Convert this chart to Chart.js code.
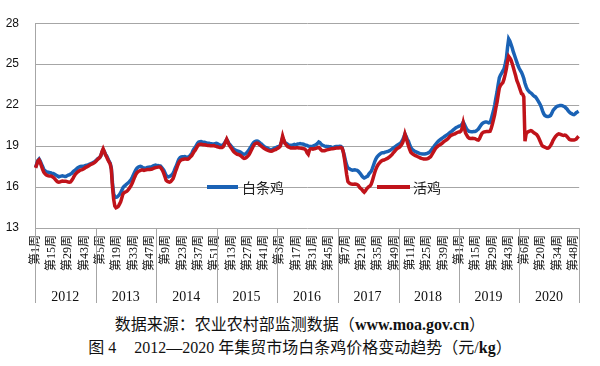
<!DOCTYPE html>
<html><head><meta charset="utf-8">
<script src="https://cdn.jsdelivr.net/npm/chart.js@4.4.1/dist/chart.umd.min.js"></script>
<style>
html,body{margin:0;padding:0;background:#fff;width:600px;height:366px;overflow:hidden;}
#wrap{position:relative;width:600px;height:366px;}
#c{position:absolute;left:0;top:0;}
.cap{position:absolute;left:0;width:600px;text-align:center;font-size:16px;line-height:20px;color:#111;font-family:'Liberation Serif','Noto Sans CJK SC',serif;white-space:nowrap;}
.lg-line{position:absolute;height:4px;}
.lg-text{position:absolute;font-family:'Noto Sans CJK SC',sans-serif;font-size:14px;line-height:16px;color:#222;white-space:nowrap;}
</style></head>
<body><div id="wrap"><canvas id="c" width="600" height="306"></canvas>
<div id="legend"></div>
<div class="cap" style="top:315px">数据来源：农业农村部监测数据（<b>www.moa.gov.cn</b>）</div>
<div class="cap" style="top:338px">图 4<span style="display:inline-block;width:18px"></span>2012—2020 年集贸市场白条鸡价格变动趋势（元/<b>kg</b>）</div>
</div>
<script>
// ---- categories / tick labels ----
const years = ['2012','2013','2014','2015','2016','2017','2018','2019','2020'];
const weeksPerYear = [52,52,52,52,52,52,52,51,52];
const labelStep = 14;

// ---- series: 白条鸡 (元/kg), weekly ----
const bai2012 = [17.45,17.7,17.95,18.05,17.9,17.7,17.5,17.3,17.2,17.13,17.1,17.08,17.05,17.05,17.0,17.0,16.95,16.9,16.85,16.8,16.75,16.78,16.8,16.82,16.8,16.78,16.78,16.82,16.88,16.9,16.95,17.0,17.1,17.18,17.24,17.32,17.4,17.45,17.5,17.52,17.5,17.52,17.55,17.58,17.6,17.62,17.66,17.7,17.74,17.78,17.82,17.88];
const bai2013 = [17.95,18.05,18.1,18.16,18.3,18.55,18.74,18.6,18.4,18.28,18.1,17.9,17.75,17.4,16.3,15.5,15.3,15.25,15.27,15.35,15.45,15.6,15.75,15.95,16.05,16.12,16.2,16.28,16.35,16.45,16.55,16.72,16.9,17.08,17.25,17.38,17.45,17.5,17.52,17.48,17.42,17.4,17.38,17.4,17.44,17.46,17.47,17.45,17.5,17.55,17.58,17.6];
const bai2014 = [17.55,17.58,17.56,17.55,17.45,17.35,17.24,17.05,16.85,16.78,16.75,16.78,16.82,16.9,17.0,17.2,17.42,17.6,17.85,18.05,18.16,18.2,18.22,18.22,18.23,18.2,18.18,18.16,18.25,18.35,18.45,18.65,18.8,18.9,19.05,19.2,19.3,19.32,19.33,19.3,19.28,19.28,19.25,19.22,19.2,19.2,19.18,19.17,19.16,19.16,19.18,19.2];
const bai2015 = [19.18,19.12,19.08,19.05,19.04,19.1,19.2,19.35,19.48,19.35,19.18,19.08,18.98,18.88,18.78,18.72,18.68,18.65,18.62,18.6,18.55,18.48,18.42,18.4,18.42,18.5,18.6,18.7,18.85,18.98,19.12,19.25,19.32,19.36,19.37,19.35,19.28,19.2,19.14,19.05,18.98,18.92,18.88,18.85,18.8,18.76,18.74,18.76,18.8,18.85,18.88,18.92];
const bai2016 = [18.95,18.97,19.05,19.3,19.6,19.4,19.25,19.2,19.15,19.1,19.06,19.04,19.06,19.08,19.12,19.1,19.12,19.15,19.16,19.18,19.16,19.15,19.14,19.1,19.06,19.04,19.0,18.98,18.97,18.97,19.0,19.04,19.08,19.12,19.2,19.3,19.25,19.15,19.08,19.04,19.0,18.98,18.97,18.97,18.96,18.95,18.92,18.9,18.92,18.95,18.97,18.97];
const bai2017 = [18.97,18.98,18.97,18.9,18.6,18.3,17.9,17.6,17.4,17.35,17.3,17.26,17.24,17.25,17.26,17.24,17.22,17.15,17.05,16.95,16.82,16.72,16.66,16.7,16.75,16.8,16.95,17.05,17.15,17.35,17.6,17.85,18.05,18.2,18.3,18.38,18.45,18.5,18.52,18.52,18.55,18.58,18.6,18.63,18.68,18.72,18.8,18.86,18.92,18.98,19.04,19.1];
const bai2018 = [19.15,19.2,19.3,19.45,19.65,19.88,19.7,19.5,19.35,19.1,18.9,18.78,18.7,18.64,18.6,18.56,18.52,18.48,18.45,18.43,18.42,18.42,18.42,18.44,18.46,18.5,18.56,18.65,18.76,18.88,18.98,19.1,19.2,19.3,19.38,19.46,19.52,19.58,19.64,19.7,19.76,19.82,19.88,19.95,20.02,20.08,20.15,20.22,20.3,20.36,20.4,20.44];
const bai2019 = [20.48,20.5,20.6,20.76,20.6,20.4,20.25,20.15,20.08,20.06,20.05,20.05,20.06,20.06,20.1,20.18,20.25,20.38,20.5,20.62,20.7,20.74,20.76,20.76,20.74,20.7,20.72,20.95,21.3,21.6,22.0,22.5,22.95,23.5,24.0,24.2,24.35,24.5,24.65,25.0,25.4,26.2,26.85,26.7,26.45,26.2,25.9,25.65,25.4,25.15,24.9];
const bai2020 = [24.7,24.55,24.4,24.2,23.95,23.6,23.35,23.15,23.05,22.95,22.9,22.82,22.72,22.65,22.6,22.48,22.35,22.2,22.05,21.85,21.6,21.38,21.25,21.2,21.17,21.17,21.2,21.25,21.4,21.6,21.7,21.8,21.88,21.92,21.95,21.98,21.98,21.96,21.92,21.88,21.8,21.72,21.6,21.5,21.42,21.38,21.32,21.3,21.35,21.45,21.5,21.55];

// ---- series: 活鸡 (元/kg), weekly ----
const huo2012 = [17.4,17.65,17.9,17.98,17.8,17.55,17.3,17.1,16.98,16.9,16.85,16.82,16.8,16.8,16.78,16.72,16.65,16.55,16.45,16.38,16.35,16.38,16.42,16.44,16.43,16.42,16.42,16.4,16.37,16.36,16.38,16.48,16.62,16.78,16.92,17.02,17.1,17.16,17.22,17.25,17.28,17.32,17.38,17.44,17.48,17.52,17.58,17.64,17.68,17.72,17.76,17.82];
const huo2013 = [17.9,18.0,18.08,18.16,18.3,18.6,18.8,18.6,18.35,18.2,18.0,17.85,17.7,17.3,16.0,15.1,14.6,14.48,14.52,14.58,14.75,14.92,15.2,15.5,15.58,15.63,15.68,15.74,15.85,15.98,16.12,16.3,16.5,16.72,16.92,17.05,17.13,17.18,17.22,17.24,17.24,17.22,17.24,17.26,17.28,17.28,17.28,17.3,17.32,17.36,17.4,17.42];
const huo2014 = [17.44,17.46,17.47,17.46,17.35,17.2,17.0,16.75,16.5,16.42,16.38,16.36,16.4,16.5,16.62,16.85,17.12,17.35,17.6,17.8,17.93,17.98,18.02,18.04,18.05,18.05,18.04,18.05,18.12,18.22,18.3,18.45,18.6,18.7,18.85,19.0,19.1,19.14,19.14,19.12,19.1,19.1,19.08,19.06,19.05,19.04,19.03,19.02,19.03,19.04,19.0,18.98];
const huo2015 = [18.95,18.92,18.9,18.9,18.9,18.95,19.1,19.3,19.5,19.3,19.1,18.97,18.85,18.72,18.6,18.51,18.45,18.4,18.38,18.35,18.3,18.22,18.15,18.1,18.12,18.18,18.26,18.35,18.5,18.68,18.85,19.02,19.15,19.2,19.22,19.2,19.12,19.04,18.97,18.9,18.84,18.78,18.74,18.7,18.66,18.63,18.62,18.64,18.68,18.72,18.74,18.8];
const huo2016 = [18.85,18.9,19.0,19.35,19.74,19.45,19.2,19.1,19.0,18.94,18.9,18.86,18.86,18.88,18.86,18.86,18.88,18.87,18.86,18.85,18.84,18.83,18.81,18.78,18.7,18.51,18.4,18.7,18.8,18.81,18.78,18.8,18.82,18.85,18.88,18.9,18.82,18.72,18.66,18.65,18.66,18.7,18.72,18.74,18.76,18.78,18.8,18.81,18.82,18.84,18.86,18.86];
const huo2017 = [18.86,18.88,18.9,18.85,18.6,18.1,17.5,16.9,16.4,16.3,16.25,16.22,16.2,16.2,16.22,16.2,16.18,16.12,15.98,15.9,15.82,15.7,15.62,15.72,15.85,15.95,16.02,16.08,16.2,16.45,16.75,17.05,17.3,17.5,17.65,17.75,17.85,17.92,17.96,17.98,18.02,18.06,18.1,18.16,18.22,18.3,18.4,18.51,18.6,18.7,18.8,18.86];
const huo2018 = [18.9,18.98,19.1,19.25,19.5,19.88,19.6,19.3,19.0,18.75,18.55,18.46,18.4,18.35,18.3,18.27,18.22,18.18,18.14,18.1,18.08,18.06,18.05,18.05,18.06,18.1,18.16,18.22,18.35,18.5,18.65,18.8,18.9,18.98,19.05,19.1,19.15,19.22,19.3,19.36,19.42,19.48,19.55,19.65,19.75,19.8,19.84,19.88,19.9,19.95,20.0,20.04];
const huo2019 = [20.04,20.1,20.3,20.7,20.3,19.95,19.8,19.65,19.58,19.55,19.55,19.57,19.56,19.55,19.5,19.46,19.44,19.55,19.75,19.92,20.0,20.04,20.05,20.06,20.06,20.06,20.08,20.3,20.6,20.94,21.3,21.8,22.2,22.75,23.26,23.45,23.55,23.65,23.9,24.25,24.65,25.2,25.57,25.45,25.3,25.05,24.75,24.45,24.15,23.8,23.6];
const huo2020 = [23.35,23.1,22.85,22.8,22.6,19.35,19.9,20.0,20.06,20.1,20.13,20.1,20.02,19.95,19.9,19.85,19.72,19.55,19.35,19.15,19.0,18.95,18.92,18.88,18.84,18.85,18.92,19.05,19.2,19.4,19.55,19.68,19.78,19.85,19.9,19.88,19.84,19.8,19.78,19.8,19.78,19.7,19.6,19.5,19.46,19.44,19.44,19.45,19.48,19.52,19.62,19.72];

const seriesNames = ['白条鸡','活鸡'];
const BLUE = '#1a62b5', RED = '#c0131a', GRID = '#a6a6a6';

const weekLabels = [];
weeksPerYear.forEach(n => { for (let w = 1; w <= n; w++) weekLabels.push('第' + w + '周'); });
const baiTiaoJi = [].concat(bai2012,bai2013,bai2014,bai2015,bai2016,bai2017,bai2018,bai2019,bai2020);
const huoJi = [].concat(huo2012,huo2013,huo2014,huo2015,huo2016,huo2017,huo2018,huo2019,huo2020);

// legend (HTML text)
const lg = document.getElementById('legend');
[[seriesNames[0], BLUE, 207, 31, 242], [seriesNames[1], RED, 377, 33, 413]].forEach(([t, c, lx, lw, tx]) => {
  const l = document.createElement('div'); l.className = 'lg-line';
  l.style.cssText = `left:${lx}px;top:185px;width:${lw}px;background:${c}`;
  const s = document.createElement('div'); s.className = 'lg-text';
  s.style.cssText = `left:${tx}px;top:179px`; s.textContent = t;
  lg.appendChild(l); lg.appendChild(s);
});

const yearSep = {
  id: 'yearSep',
  afterDraw(chart) {
    const xs = chart.scales.x, ca = chart.chartArea, ctx = chart.ctx;
    const n = weekLabels.length;
    const bounds = [0]; let b = 0;
    weeksPerYear.forEach(k => { b += k; bounds.push(b); });
    ctx.save(); ctx.strokeStyle = GRID; ctx.lineWidth = 1;
    bounds.forEach(bi => {
      const x = Math.round(xs.left + bi * xs.width / n) + 0.5;
      ctx.beginPath(); ctx.moveTo(x, ca.bottom); ctx.lineTo(x, chart.scales.x2.bottom - 3); ctx.stroke();
    });
    ctx.restore();
  }
};

new Chart(document.getElementById('c'), {
  type: 'line',
  data: {
    labels: weekLabels,
    datasets: [
      { label: seriesNames[0], data: baiTiaoJi, borderColor: BLUE, backgroundColor: BLUE, borderWidth: 3.5, pointRadius: 0, tension: 0, order: 1 },
      { label: seriesNames[1], data: huoJi, borderColor: RED, backgroundColor: RED, borderWidth: 3.5, pointRadius: 0, tension: 0, order: 0 }
    ]
  },
  options: {
    responsive: false, animation: false, devicePixelRatio: 1,
    layout: { padding: { top: 12, right: 9, left: 0, bottom: 0 } },
    plugins: { legend: { display: false }, tooltip: { enabled: false } },
    scales: {
      x: {
        type: 'category', offset: true, weight: 0,
        grid: { display: false, drawTicks: false }, border: { display: false },
        ticks: {
          autoSkip: false, maxRotation: 90, minRotation: 90, padding: 7, color: '#111',
          font: { family: "'Liberation Serif','Noto Sans CJK SC'", size: 12 },
          callback: (v, i) => (i % labelStep === 0 ? weekLabels[i] : '')
        },
        afterFit: s => { s.height = 60; }
      },
      x2: {
        type: 'category', labels: years, offset: true, position: 'bottom', weight: 1,
        grid: { display: false, drawTicks: false }, border: { display: false },
        ticks: { autoSkip: false, maxRotation: 0, padding: 1, color: '#111', font: { family: "'Liberation Serif'", size: 14 } },
        afterFit: s => { s.height = 18; }
      },
      y: {
        min: 13, max: 28,
        ticks: { stepSize: 3, padding: 16, color: '#111', font: { family: "'Liberation Sans'", size: 12 } },
        grid: { color: GRID, drawTicks: false },
        border: { display: true, color: GRID },
        afterFit: s => { s.width = 35; }
      }
    }
  },
  plugins: [yearSep]
});
</script>
</body></html>
